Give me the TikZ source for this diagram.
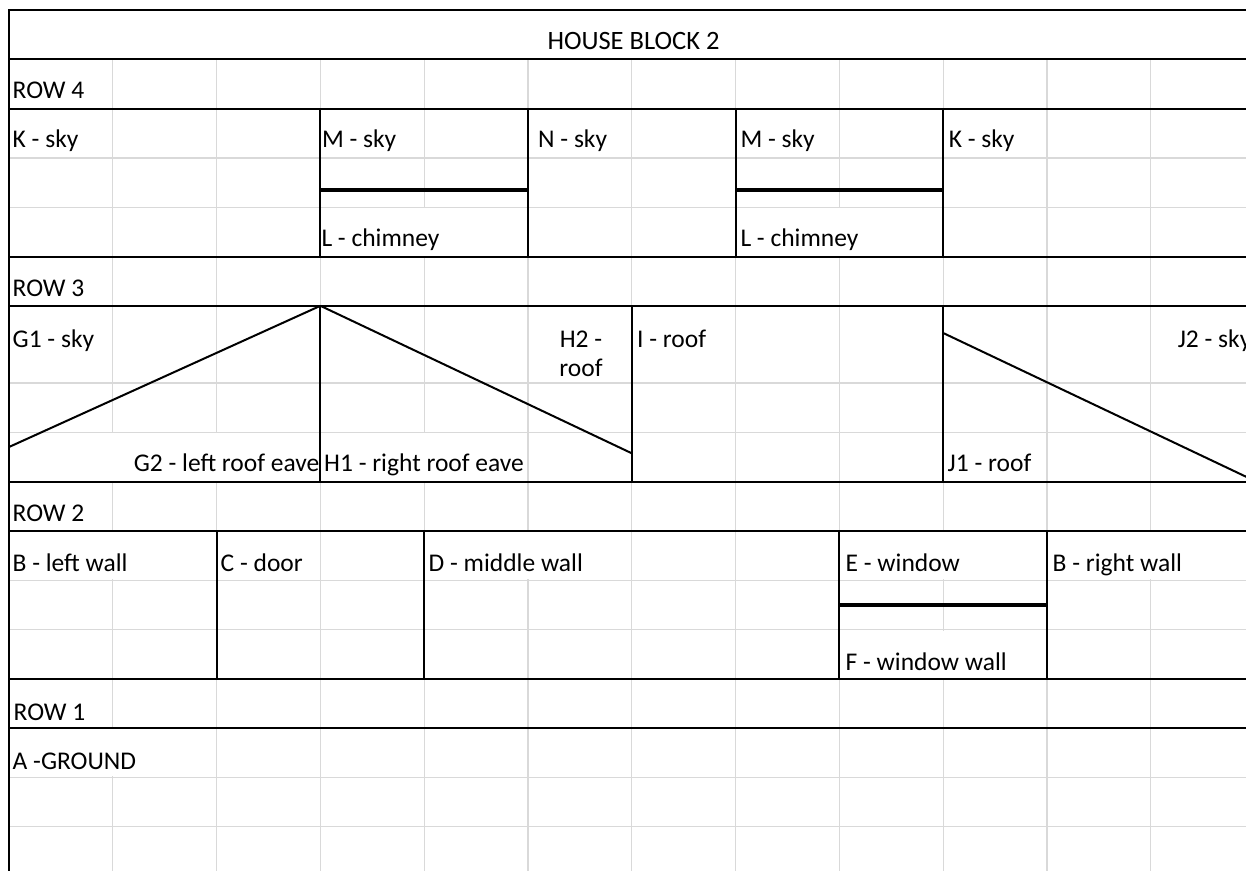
\documentclass[tikz,border=0pt]{standalone}
\usepackage{fontspec}
\setmainfont{Carlito}
\definecolor{gridgray}{RGB}{217,217,217}
\begin{document}
\begin{tikzpicture}[x=1pt,y=-1pt,
  gridline/.style={draw=gridgray, line width=1.3pt},
  gapmask/.style={draw=white, line width=2.6pt},
  border/.style={draw=black, line width=2pt},
  heavy/.style={draw=black, line width=3.6pt},
  roofline/.style={draw=black, line width=2pt},
  lbl/.style={anchor=base west, inner sep=0pt, font=\fontsize{25.5}{29}\selectfont},
  rlbl/.style={anchor=base east, inner sep=0pt, font=\fontsize{25.5}{29}\selectfont},
  clbl/.style={anchor=base, inner sep=0pt, font=\fontsize{25.5}{29}\selectfont},
  ttl/.style={anchor=base, inner sep=0pt, font=\fontsize{26.5}{30}\selectfont}]
\useasboundingbox[fill=white] (0,0) rectangle (1246,871);

% light grid
\foreach \x in {112.8,216.6,320.4,424.2,528,631.8,735.6,839.4,943.2,1047,1150.8}
  \draw[gridline] (\x,59.3) -- (\x,871);
\foreach \y in {157.9,207.2,383,432.3,580.2,629.5,777.4,826.7}
  \draw[gridline] (9,\y) -- (1256,\y);

% gridlines hidden by overflowing text
\draw[gapmask] (424.2,208.2) -- (424.2,255.5);
\draw[gapmask] (839.4,208.2) -- (839.4,255.5);
\draw[gapmask] (112.8,433.3) -- (112.8,480.6);
\draw[gapmask] (216.6,433.3) -- (216.6,480.6);
\draw[gapmask] (424.2,433.3) -- (424.2,480.6);
\draw[gapmask] (112.8,531.9) -- (112.8,579.2);
\draw[gapmask] (528,531.9) -- (528,579.2);
\draw[gapmask] (943.2,531.9) -- (943.2,579.2);
\draw[gapmask] (1150.8,531.9) -- (1150.8,579.2);
\draw[gapmask] (943.2,630.5) -- (943.2,677.8);
\draw[gapmask] (112.8,729.1) -- (112.8,776.4);

% black row borders
\foreach \y in {10,59.3,108.6,256.5,305.8,481.6,530.9,678.8,728.1}
  \draw[border] (8,\y) -- (1256,\y);
\draw[border] (9,9) -- (9,871);

% row 4 : chimneys
\draw[border] (320.4,108.6) -- (320.4,256.5);
\draw[border] (528,108.6) -- (528,256.5);
\draw[border] (735.6,108.6) -- (735.6,256.5);
\draw[border] (943.2,108.6) -- (943.2,256.5);
\draw[heavy] (320.4,190) -- (528,190);
\draw[heavy] (735.6,190) -- (943.2,190);

% row 3 : roof
\coordinate (apex) at (320.4,305.8);
\coordinate (leftend) at (9,447);
\coordinate (rightend) at (631.8,453.3);
\coordinate (jtop) at (943.2,333);
\coordinate (jend) at (1254,480.5);
\draw[border] (apex) -- (320.4,481.6);
\draw[border] (631.8,305.8) -- (631.8,481.6);
\draw[border] (943.2,305.8) -- (943.2,481.6);
\draw[roofline] (leftend) -- (apex);
\draw[roofline] (apex) -- (rightend);
\draw[roofline] (jtop) -- (jend);

% row 2 : walls, door, window
\draw[border] (216.6,530.9) -- (216.6,678.8);
\draw[border] (424.2,530.9) -- (424.2,678.8);
\draw[border] (839.4,530.9) -- (839.4,678.8);
\draw[border] (1047,530.9) -- (1047,678.8);
\draw[heavy] (839.4,605) -- (1047,605);

% texts
\node[ttl] (title) at (633.5,49.3) {HOUSE BLOCK 2};
\node[lbl] (row4) at (12.5,98.6) {ROW 4};
\node[lbl] (k1) at (12.5,147.4) {K - sky};
\node[lbl] (m1) at (321.8,147.4) {M - sky};
\node[lbl] (n1) at (538,147.4) {N - sky};
\node[lbl] (m2) at (740.3,147.4) {M - sky};
\node[lbl] (k2) at (948.6,147.4) {K - sky};
\node[lbl] (l1) at (321.3,246.5) {L - chimney};
\node[lbl] (l2) at (740.3,246.5) {L - chimney};
\node[lbl] (row3) at (12.5,296.3) {ROW 3};
\node[lbl] (g1) at (12.5,347) {G1 - sky};
\node[clbl] (h2a) at (581,347) {H2 -};
\node[clbl] (h2b) at (581,376) {roof};
\node[lbl] (i1) at (637,347) {I - roof};
\node[rlbl] (j2) at (1251.5,347) {J2 - sky};
\node[rlbl] (g2) at (319.5,471) {G2 - left roof eave};
\node[lbl] (h1) at (324,471) {H1 - right roof eave};
\node[lbl] (j1) at (947.5,471) {J1 - roof};
\node[lbl] (row2) at (12.5,521.8) {ROW 2};
\node[lbl] (bl) at (12.5,571.2) {B - left wall};
\node[lbl] (c1) at (220.5,571.2) {C - door};
\node[lbl] (d1) at (428.5,571.2) {D - middle wall};
\node[lbl] (e1) at (845.5,571.2) {E - window};
\node[lbl] (br) at (1052.5,571.2) {B - right wall};
\node[lbl] (f1) at (845.5,670.5) {F - window wall};
\node[lbl] (row1) at (13.5,720) {ROW 1};
\node[lbl] (a1) at (12.5,769.3) {A -GROUND};
\end{tikzpicture}
\end{document}
